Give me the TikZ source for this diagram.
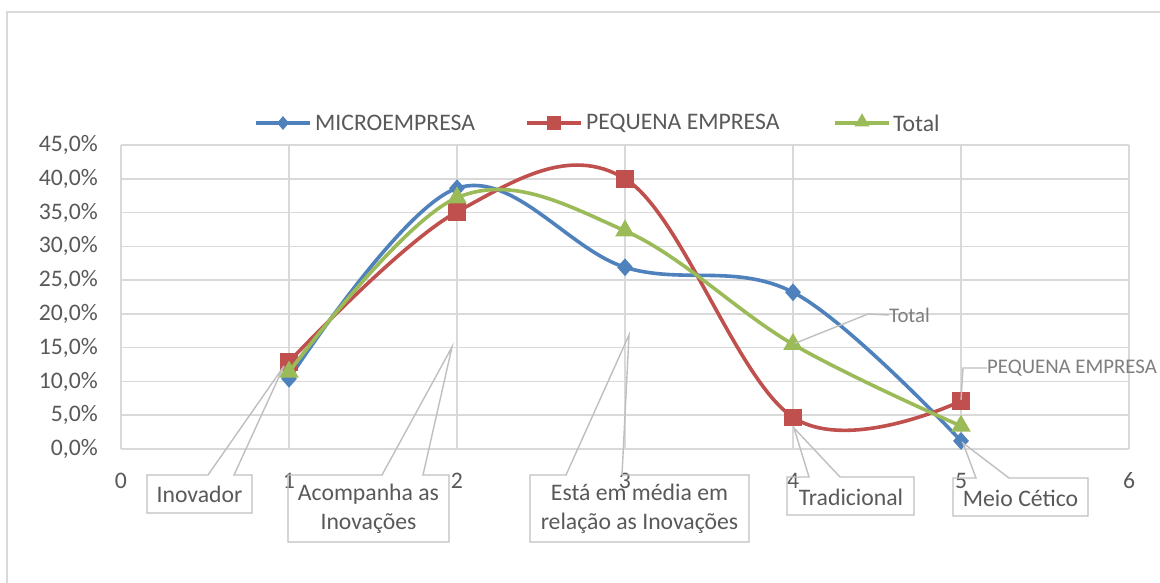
\documentclass[tikz,border=0pt]{standalone}
\usepackage{fontspec}
\setmainfont{Carlito}
\usetikzlibrary{shapes.geometric}
\definecolor{cblue}{HTML}{4F81BD}
\definecolor{cred}{HTML}{C0504D}
\definecolor{cgreen}{HTML}{9BBB59}
\definecolor{grid}{HTML}{D9D9D9}
\definecolor{txt}{HTML}{595959}
\definecolor{callgray}{HTML}{BFBFBF}
\definecolor{lbl}{HTML}{7F7F7F}
\tikzset{
  gridline/.style={draw=grid, line width=1.6pt},
  series/.style={line width=3.6pt, line cap=round, line join=round},
  bluemk/.style={diamond, fill=cblue, inner sep=0pt, minimum width=16pt, minimum height=18pt},
  redmk/.style={rectangle, fill=cred, inner sep=0pt, minimum size=17.5pt},
  greenmk/.style={isosceles triangle, isosceles triangle apex angle=60, shape border rotate=90, fill=cgreen, inner sep=0pt, minimum height=17pt, minimum width=19pt, anchor=center},
  axislbl/.style={text=txt, font=\fontsize{23.7}{28}\selectfont, inner sep=0pt},
  callout/.style={draw=callgray, line width=1.4pt, line join=miter},
  calltext/.style={text=txt, font=\fontsize{23.7}{29}\selectfont, align=center, inner sep=0pt},
  smalllbl/.style={text=lbl, font=\fontsize{20.8}{24}\selectfont, inner sep=0pt, anchor=west},
}
\begin{document}
\begin{tikzpicture}[x=1pt, y=-1pt]
\useasboundingbox (0,0) rectangle (1160,582);
\fill[white] (0,0) rectangle (1160,582);
% outer frame
\draw[draw=grid, line width=1.5pt] (7,600) -- (7,12) -- (1170,12);

% legend
\draw[series, cblue, line cap=butt] (256,123) coordinate (lb1) -- (310,123) coordinate (lb2);
\node[bluemk, minimum width=12pt, minimum height=14pt] (lgb) at (283,123) {};
\node[axislbl, anchor=west] (lgbt) at (315,123) {MICROEMPRESA};
\draw[series, cred, line cap=butt] (527,123) coordinate (lr1) -- (581,123) coordinate (lr2);
\node[redmk, minimum size=14pt] (lgr) at (554,123) {};
\node[axislbl, anchor=west] (lgrt) at (586,123) {PEQUENA EMPRESA};
\draw[series, cgreen, line cap=butt] (835,123) coordinate (lg1) -- (889,123) coordinate (lg2);
\node[greenmk, minimum height=13pt, minimum width=15pt] (lgg) at (862,122) {};
\node[axislbl, anchor=west] (lggt) at (893,123) {Total};

% y-axis labels
\foreach \v/\t [count=\i] in {0/{0,0\%},5/{5,0\%},10/{10,0\%},15/{15,0\%},20/{20,0\%},25/{25,0\%},30/{30,0\%},35/{35,0\%},40/{40,0\%},45/{45,0\%}}{
  \node[axislbl, anchor=east] (yl\i) at (98,{449-6.756*\v}) {\t};
}
% x-axis labels
\foreach \v in {0,...,6}{
  \node[axislbl] (xl\v) at ({121+168*\v},481) {\v};
}

\begin{scope}[shift={(121,449)}, x=168pt, y=6.756pt]
  % grid
  \foreach \v in {0,5,...,45} \draw[gridline] (0,\v) -- (6,\v);
  \foreach \v in {0,...,6} \draw[gridline] (\v,0) -- (\v,45);
  % blue series
  \draw[series, cblue] plot[smooth, tension=0.6] coordinates {(1,10.4) (2,38.6) (3,26.9) (4,23.2) (5,1.2)};
  \foreach \x/\y [count=\i] in {1/10.4,2/38.6,3/26.9,4/23.2,5/1.2}
    \node[bluemk] (b\i) at (\x,\y) {};
  % red series
  \draw[series, cred] plot[smooth, tension=0.6] coordinates {(1,12.9) (2,35.1) (3,40.0) (4,4.7) (5,7.1)};
  \foreach \x/\y [count=\i] in {1/12.9,2/35.1,3/40.0,4/4.7,5/7.1}
    \node[redmk] (r\i) at (\x,\y) {};
  % green series
  \draw[series, cgreen] plot[smooth, tension=0.6] coordinates {(1,11.4) (2,37.2) (3,32.3) (4,15.5) (5,3.4)};
  \foreach \x/\y [count=\i] in {1/11.4,2/37.2,3/32.3,4/15.5,5/3.4}
    \node[greenmk] (g\i) at (\x,\y) {};
\end{scope}

% callouts
\draw[callout] (147,475) -- (208,475) -- (284,366) coordinate (t1) -- (234,475) -- (252,475) -- (252,513) -- (147,513) -- cycle;
\node[calltext] (c1) at (199.5,494) {Inovador};
\draw[callout] (288,475) -- (382,475) -- (452,347) coordinate (t2) -- (423,475) -- (449,475) -- (449,542) -- (288,542) -- cycle;
\node[calltext] (c2) at (368.5,509) {Acompanha as\\Inovações};
\draw[callout] (530,475) -- (566,475) -- (629,335) coordinate (t3) -- (622,475) -- (749,475) -- (749,542) -- (530,542) -- cycle;
\node[calltext] (c3) at (639.5,509) {Está em média em\\relação as Inovações};
\draw[callout] (787,477) -- (809,477) -- (794,428) coordinate (t4) -- (840,477) -- (914,477) -- (914,515) -- (787,515) -- cycle;
\node[calltext] (c4) at (851,497) {Tradicional};
\draw[callout] (953,478) -- (976,478) -- (963,443) coordinate (t5) -- (1009,478) -- (1088,478) -- (1088,516) -- (953,516) -- cycle;
\node[calltext] (c5) at (1020.5,498) {Meio Cético};

% series labels
\node[smalllbl] (lt) at (889,315) {Total};
\draw[draw=callgray, line width=1.4pt] (g4) ++(2,-1) -- (868,314) -- (lt.west);
\node[smalllbl] (lp) at (987,368) {PEQUENA EMPRESA};
\draw[draw=callgray, line width=1.4pt] (r5.center) ++(0,-1) -- (963,368) -- (lp.west);
\end{tikzpicture}
\end{document}
